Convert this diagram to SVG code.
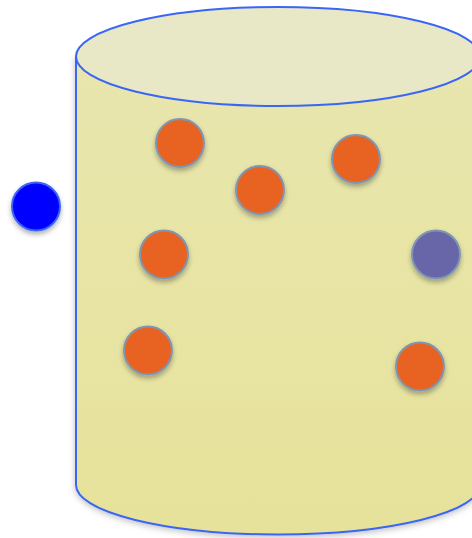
<svg xmlns="http://www.w3.org/2000/svg" width="472" height="538" viewBox="0 0 472 538">
<defs>
<linearGradient id="body" x1="0" y1="0" x2="0" y2="1">
<stop offset="0" stop-color="#e8e6ae"/>
<stop offset="1" stop-color="#e7e29a"/>
</linearGradient>
<filter id="sh" x="-20%" y="-20%" width="140%" height="150%">
<feDropShadow dx="0" dy="3" stdDeviation="2.5" flood-color="#000" flood-opacity="0.3"/>
</filter>
<filter id="cs" x="-10%" y="-10%" width="120%" height="120%">
<feDropShadow dx="0" dy="2" stdDeviation="3" flood-color="#000" flood-opacity="0.25"/>
</filter>
</defs>
<style>
.cyl{stroke:#3a66f5;stroke-width:2}
.ball{stroke:#7f96b2;stroke-width:2;filter:url(#sh)}
.orange{fill:#e86424}
.purple{fill:#6866a8}
</style>
<g id="cylinder">
<path class="cyl" filter="url(#cs)" fill="url(#body)" d="M76,56.5 V485 A202,49.5 0 0 0 480,485 V56.5 Z"/>
<ellipse class="cyl" cx="278" cy="56.5" rx="202" ry="49.5" fill="#e8e7c6"/>
</g>
<g id="outside-ball"><circle cx="36" cy="206.5" r="24" fill="#0000ff" stroke="#3a66f5" stroke-width="2" filter="url(#sh)"/></g>
<g id="ball-1"><circle class="ball orange" cx="180" cy="143" r="24"/></g>
<g id="ball-2"><circle class="ball orange" cx="260" cy="190" r="24"/></g>
<g id="ball-3"><circle class="ball orange" cx="356" cy="159" r="24"/></g>
<g id="ball-4"><circle class="ball orange" cx="164" cy="254.5" r="24"/></g>
<g id="ball-5"><circle class="ball purple" cx="436" cy="254.5" r="24"/></g>
<g id="ball-6"><circle class="ball orange" cx="148" cy="350.5" r="24"/></g>
<g id="ball-7"><circle class="ball orange" cx="420" cy="366.5" r="24"/></g>
<g id="connectors"/>
</svg>
